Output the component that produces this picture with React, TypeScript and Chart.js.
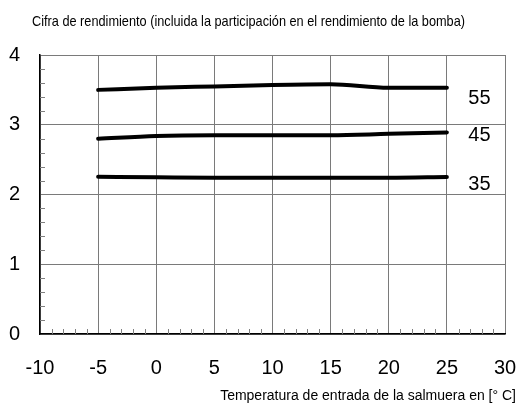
import { useEffect, useRef } from 'react';
import { Chart, registerables } from 'chart.js';

Chart.register(...registerables);

// ---- data ----
const temperatures = [-5, 0, 5, 10, 15, 20, 25];
const cop55 = [3.5, 3.53, 3.55, 3.57, 3.58, 3.53, 3.53];
const cop45 = [2.8, 2.84, 2.85, 2.85, 2.85, 2.87, 2.89];
const cop35 = [2.255, 2.247, 2.24, 2.24, 2.24, 2.24, 2.25];
const seriesLabels = ['55', '45', '35'];
const seriesLabelX = [27.8, 27.8, 27.8];
const seriesLabelY = [3.37, 2.85, 2.15];
const xTickValues = [-10, -5, 0, 5, 10, 15, 20, 25, 30];
const yTickValues = [0, 1, 2, 3, 4];
const chartTitle = 'Cifra de rendimiento (incluida la participación en el rendimiento de la bomba)';
const xAxisTitle = 'Temperatura de entrada de la salmuera en [° C]';

const FONT = "'Liberation Sans', Arial, sans-serif";

const decorPlugin = {
  id: 'decor',
  beforeDatasetsDraw(chart: any) {
    const { ctx, chartArea, scales } = chart;
    const xs = scales.x;
    const ys = scales.y;
    ctx.save();
    ctx.strokeStyle = '#808080';
    ctx.lineWidth = 1;
    ctx.beginPath();
    for (let i = 1; i < 20; i++) {
      if (i % 5 === 0) continue;
      const v = i * 0.2;
      const py = Math.round(ys.getPixelForValue(v)) + 0.5;
      ctx.moveTo(chartArea.left, py);
      ctx.lineTo(chartArea.left + 5, py);
    }
    for (let v = -9; v < 30; v++) {
      if (v % 5 === 0) continue;
      const px = Math.round(xs.getPixelForValue(v)) + 0.5;
      ctx.moveTo(px, chartArea.bottom);
      ctx.lineTo(px, chartArea.bottom - 5);
    }
    ctx.stroke();
    ctx.restore();
  },
  afterDraw(chart: any) {
    const { ctx, scales } = chart;
    ctx.save();
    ctx.fillStyle = '#000';
    // title (condensed)
    ctx.font = `15px 'Liberation Sans Narrow', 'Arial Narrow', ${FONT}`;
    ctx.textBaseline = 'alphabetic';
    ctx.textAlign = 'left';
    const w = ctx.measureText(chartTitle).width;
    const target = 433;
    ctx.save();
    ctx.translate(32, 26);
    ctx.scale(target / w, 1);
    ctx.fillText(chartTitle, 0, 0);
    ctx.restore();
    // x axis title
    ctx.font = `14px ${FONT}`;
    ctx.textAlign = 'right';
    ctx.fillText(xAxisTitle, 516, 400);
    // series labels
    ctx.font = `20px ${FONT}`;
    ctx.textAlign = 'center';
    ctx.textBaseline = 'middle';
    seriesLabels.forEach((t, i) => {
      ctx.fillText(t, scales.x.getPixelForValue(seriesLabelX[i]), scales.y.getPixelForValue(seriesLabelY[i]));
    });
    ctx.restore();
  },
};

export default function App() {
  const ref = useRef<HTMLCanvasElement>(null);
  useEffect(() => {
    document.body.style.margin = '0';
    const mk = (data: number[]) => ({
      data: temperatures.map((t, i) => ({ x: t, y: data[i] })),
      borderColor: '#000',
      backgroundColor: '#000',
      borderWidth: 4,
      pointRadius: 0,
      cubicInterpolationMode: 'monotone' as const,
      borderCapStyle: 'round' as const,
      fill: false,
    });
    const chart = new Chart(ref.current!, {
      type: 'line',
      data: { datasets: [mk(cop55), mk(cop45), mk(cop35)] },
      options: {
        animation: false,
        responsive: false,
        devicePixelRatio: 1,
        layout: { padding: { left: 0, top: 55, right: 17, bottom: 0 } },
        plugins: { legend: { display: false }, tooltip: { enabled: false }, title: { display: false } },
        scales: {
          x: {
            type: 'linear',
            min: -10,
            max: 30,
            afterBuildTicks: (s: any) => { s.ticks = xTickValues.map((v) => ({ value: v })); },
            afterFit: (s: any) => { s.height = 69; s.paddingLeft = 0; s.paddingRight = 0; },
            grid: { color: '#7a7a7a', lineWidth: 1, drawTicks: false },
            border: { display: true, color: '#000', width: 1.5 },
            ticks: { color: '#000', font: { family: FONT, size: 20 }, padding: 22, maxRotation: 0, autoSkip: false },
          },
          y: {
            type: 'linear',
            min: 0,
            max: 4,
            afterBuildTicks: (s: any) => { s.ticks = yTickValues.map((v) => ({ value: v })); },
            afterFit: (s: any) => { s.width = 40; s.paddingTop = 0; s.paddingBottom = 0; },
            grid: { color: '#7a7a7a', lineWidth: 1, drawTicks: false },
            border: { display: true, color: '#000', width: 1.5 },
            ticks: { color: '#000', font: { family: FONT, size: 20 }, padding: 20 },
          },
        },
      },
      plugins: [decorPlugin],
    });
    return () => chart.destroy();
  }, []);
  return (
    <div style={{ position: 'fixed', left: 0, top: 0, width: 522, height: 403, background: '#fff' }}>
      <canvas ref={ref} width={522} height={403} />
    </div>
  );
}
